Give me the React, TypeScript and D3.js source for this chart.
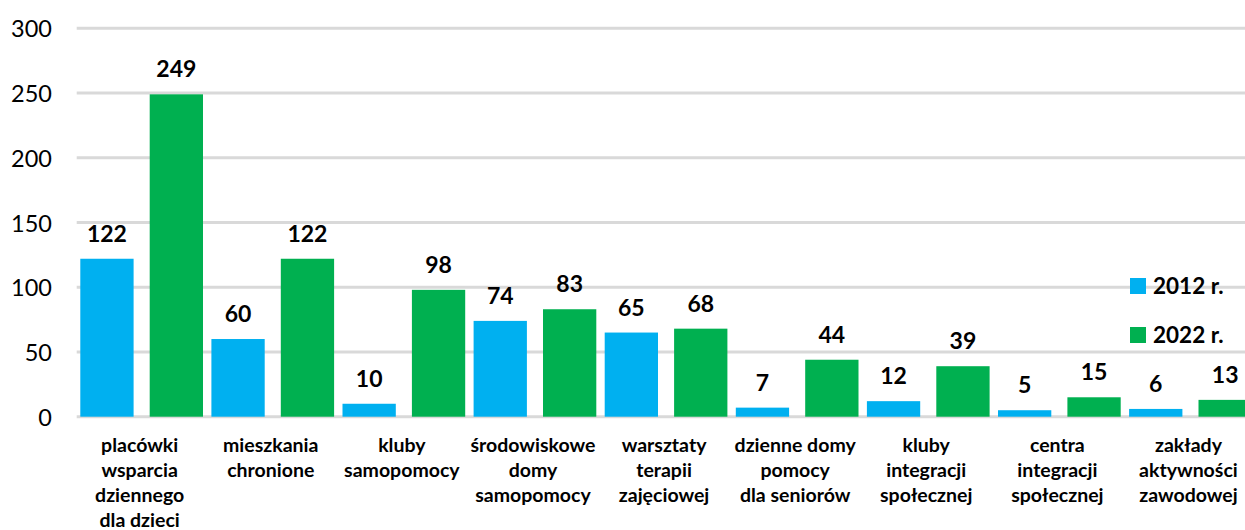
import React from "react";
import * as d3 from "d3";

const categories = [
  "placówki\nwsparcia\ndziennego\ndla dzieci",
  "mieszkania\nchronione",
  "kluby\nsamopomocy",
  "środowiskowe\ndomy\nsamopomocy",
  "warsztaty\nterapii\nzajęciowej",
  "dzienne domy\npomocy\ndla seniorów",
  "kluby\nintegracji\nspołecznej",
  "centra\nintegracji\nspołecznej",
  "zakłady\naktywności\nzawodowej",
];
const seriesNames = ["2012 r.", "2022 r."];
const values2012 = [122, 60, 10, 74, 65, 7, 12, 5, 6];
const values2022 = [249, 122, 98, 83, 68, 44, 39, 15, 13];
const yTicks = [0, 50, 100, 150, 200, 250, 300];
const colors = ["#00B0F0", "#00B050"];

const W = 1245;
const H = 530;
const FONT = "Lato, 'Open Sans', sans-serif";

export default function App() {
  const x0 = d3.scaleBand<string>().domain(categories).range([76.1, 1256]).paddingInner(0).paddingOuter(0);
  const x1 = d3
    .scaleBand<string>()
    .domain(seriesNames)
    .range([4.2, x0.bandwidth() - 4.2])
    .paddingInner(0.232)
    .paddingOuter(0);
  const y = d3.scaleLinear().domain([0, 300]).range([416.7, 28.3]);
  const seriesValues = [values2012, values2022];

  return (
    <svg
      width={W}
      height={H}
      style={{ position: "absolute", left: 0, top: 0, background: "#fff" }}
      fontFamily={FONT}
    >
      <rect x={0} y={0} width={W} height={H} fill="#fff" />
      {yTicks.map((t) => (
        <g key={t}>
          <line x1={76.7} x2={W} y1={y(t)} y2={y(t)} stroke="#D9D9D9" strokeWidth={3} />
          <text
            x={52}
            y={y(t)}
            textAnchor="end"
            dominantBaseline="central"
            fontSize={23.5}
            fill="#000"
          >
            {t}
          </text>
        </g>
      ))}
      {categories.map((c, i) => (
        <g key={c} transform={`translate(${x0(c)},0)`}>
          {seriesNames.map((s, si) => {
            const v = seriesValues[si][i];
            const bx = x1(s)!;
            return (
              <g key={s}>
                <rect
                  x={bx}
                  y={y(v)}
                  width={x1.bandwidth()}
                  height={y(0) - y(v)}
                  fill={colors[si]}
                />
                <text
                  x={bx + x1.bandwidth() / 2}
                  y={y(v) - 17}
                  textAnchor="middle"
                  fontSize={23}
                  fontWeight="bold"
                  fill="#000"
                >
                  {v}
                </text>
              </g>
            );
          })}
          <text
            textAnchor="middle"
            fontSize={19.5}
            fontWeight="bold"
            fill="#000"
          >
            {c.split("\n").map((line, li) => (
              <tspan key={li} x={x0.bandwidth() / 2 - 2} y={452 + li * 25}>
                {line}
              </tspan>
            ))}
          </text>
        </g>
      ))}
      {seriesNames.map((s, si) => (
        <g key={s}>
          <rect x={1130} y={278 + si * 49} width={16} height={16} fill={colors[si]} />
          <text x={1153} y={293.5 + si * 49} fontSize={22.5} fontWeight="bold" fill="#000">
            {s}
          </text>
        </g>
      ))}
    </svg>
  );
}
